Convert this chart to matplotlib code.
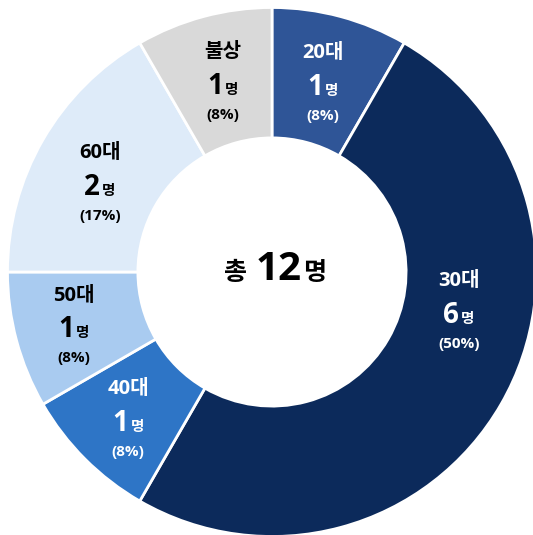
import matplotlib
matplotlib.use("Agg")
import matplotlib.pyplot as plt
from matplotlib.offsetbox import TextArea, HPacker, AnnotationBbox, DrawingArea

plt.rcParams['font.family'] = ['Open Sans', 'Noto Sans CJK KR', 'DejaVu Sans']

# data
age_groups = ['20대', '30대', '40대', '50대', '60대', '불상']
counts = [1, 6, 1, 1, 2, 1]
percents = ['8%', '50%', '8%', '8%', '17%', '8%']
total_label = '12'

# styles
colors = ['#2F5597', '#0C2A5B', '#2E75C6', '#A9CBF0', '#DEEBF9', '#D9D9D9']
text_colors = ['white', 'white', 'white', 'black', 'black', 'black']
# label centres (count line) in pie-radius units
label_pos = [(0.193, 0.699), (0.707, -0.163), (-0.544, -0.571),
             (-0.749, -0.219), (-0.650, 0.321), (-0.185, 0.703)]

R_PX = 264.5
CX, CY = 272, 272
W, H = 533, 535

fig = plt.figure(figsize=(W / 100, H / 100), dpi=100)
ax = fig.add_axes([0, 0, 1, 1])
ax.pie(counts, colors=colors, startangle=90, counterclock=False, radius=1,
       wedgeprops=dict(width=0.493, edgecolor='white', linewidth=2))
ax.set_xlim(-CX / R_PX, (W - CX) / R_PX)
ax.set_ylim(-(H - CY) / R_PX, CY / R_PX)
ax.set_aspect('equal')
ax.axis('off')


def put(box, x, y):
    ab = AnnotationBbox(box, (x, y), xycoords='data', frameon=False,
                        box_alignment=(0.5, 0.5), pad=0)
    ax.add_artist(ab)


for name, n, pct, col, (x, y) in zip(age_groups, counts, percents, text_colors, label_pos):
    title = TextArea(name, textprops=dict(fontsize=14.5, fontweight='bold', color=col))
    put(title, x, y + 0.13)
    num = TextArea(str(n), textprops=dict(fontsize=20, fontweight='bold', color=col))
    unit = TextArea('명', textprops=dict(fontsize=10.5, fontweight='bold', color=col))
    row = HPacker(children=[num, unit], align='baseline', pad=0, sep=1.5)
    put(row, x, y)
    p = TextArea('(' + pct + ')', textprops=dict(fontsize=11, fontweight='bold', color=col))
    put(p, x, y - 0.108)

# centre total
c1 = TextArea('총', textprops=dict(fontsize=18, fontweight='bold', color='black'))
c2 = TextArea(total_label, textprops=dict(fontsize=29, fontweight='bold', color='black'))
c3 = TextArea('명', textprops=dict(fontsize=18, fontweight='bold', color='black'))
gap = DrawingArea(4, 0)
centre = HPacker(children=[c1, gap, c2, c3], align='baseline', pad=0, sep=1)
put(centre, 0.011, 0.011)

fig.savefig('out.png', dpi=100)
